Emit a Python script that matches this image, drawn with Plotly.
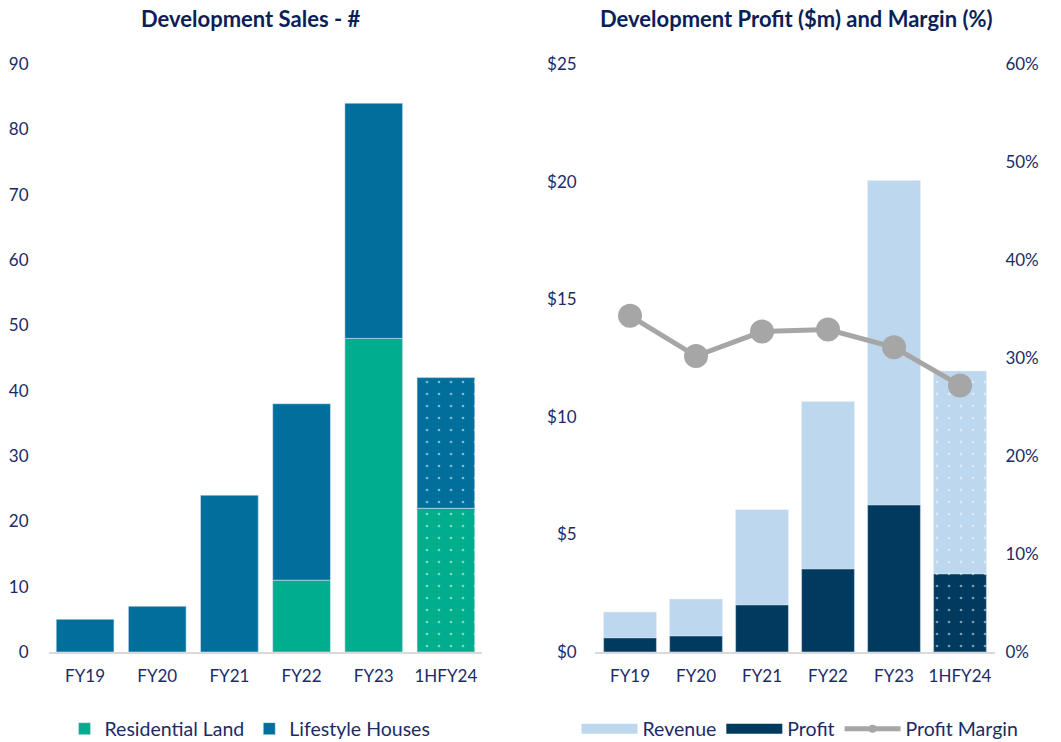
import plotly.graph_objects as go

categories = ["FY19", "FY20", "FY21", "FY22", "FY23", "1HFY24"]
residential_land = [0, 0, 0, 11, 48, 22]
lifestyle_houses = [5, 7, 24, 27, 36, 20]
revenue = [1.7, 2.25, 6.05, 10.65, 20.05, 11.95]
profit = [0.6, 0.68, 2.0, 3.53, 6.25, 3.32]
profit_margin = [0.343, 0.302, 0.327, 0.329, 0.311, 0.272]

C_LAND = "#00AE8E"
C_HOUSE = "#006F9B"
C_REV = "#BDD7EE"
C_PROF = "#003A5F"
C_MARGIN = "#A6A6A6"
C_TEXT = "#1B2B66"
C_TITLE = "#0B1F56"
FONT = "Lato, Open Sans, sans-serif"

W, H = 1061, 742
ML, MR, MT, MB = 49, 66, 64, 90
PW, PH = W - ML - MR, H - MT - MB


def px_x(p):
    return (p - ML) / PW


def px_y(p):
    return (H - MB - p) / PH


shapes = ["" for _ in categories[:-1]] + ["."]


def pat():
    return dict(shape=shapes, fgcolor="white", size=12, solidity=0.04)


fig = go.Figure()

fig.add_trace(go.Bar(x=categories, y=residential_land, name="Residential Land",
                     marker=dict(color=C_LAND, pattern=pat()), width=0.8,
                     xaxis="x", yaxis="y", legend="legend"))
fig.add_trace(go.Bar(x=categories, y=lifestyle_houses, base=residential_land,
                     name="Lifestyle Houses",
                     marker=dict(color=C_HOUSE, pattern=pat()), width=0.8,
                     xaxis="x", yaxis="y", legend="legend"))

fig.add_trace(go.Bar(x=categories, y=revenue, name="Revenue",
                     marker=dict(color=C_REV, pattern=pat()), width=0.8,
                     xaxis="x2", yaxis="y2", showlegend=False))
fig.add_trace(go.Bar(x=categories, y=profit, name="Profit",
                     marker=dict(color=C_PROF, pattern=pat()), width=0.8,
                     xaxis="x2", yaxis="y2", showlegend=False))
fig.add_trace(go.Scatter(x=categories, y=profit_margin, name="Profit Margin",
                         mode="lines+markers",
                         line=dict(color=C_MARGIN, width=5),
                         marker=dict(color=C_MARGIN, size=24),
                         xaxis="x2", yaxis="y3", showlegend=False))

# legend entries for the right panel (wide swatches as in the original)
fig.add_trace(go.Scatter(x=[None], y=[None], name="Revenue", mode="lines",
                         line=dict(color=C_REV, width=12),
                         xaxis="x2", yaxis="y2", legend="legend2"))
fig.add_trace(go.Scatter(x=[None], y=[None], name="Profit", mode="lines",
                         line=dict(color=C_PROF, width=12),
                         xaxis="x2", yaxis="y2", legend="legend2"))
fig.add_trace(go.Scatter(x=[None], y=[None], name="Profit Margin",
                         mode="lines+markers",
                         line=dict(color=C_MARGIN, width=5),
                         marker=dict(color=C_MARGIN, size=8),
                         xaxis="x2", yaxis="y3", legend="legend2"))

tickfont = dict(family=FONT, size=17, color=C_TEXT)
legfont = dict(family=FONT, size=19.5, color=C_TEXT)

fig.update_layout(
    width=W, height=H,
    barmode="overlay",
    plot_bgcolor="white", paper_bgcolor="white",
    margin=dict(l=ML, r=MR, t=MT, b=MB, autoexpand=False),
    font=dict(family=FONT, color=C_TEXT),
    xaxis=dict(domain=[0, 0.4577], showgrid=False, showline=True,
               linecolor="#D9D9D9", linewidth=2, tickfont=tickfont,
               ticks="outside", ticklen=8, tickcolor="rgba(0,0,0,0)"),
    yaxis=dict(range=[0, 90], dtick=10, showgrid=False, zeroline=False,
               showline=False, tickfont=tickfont, ticks="outside",
               ticklen=16, tickcolor="rgba(0,0,0,0)"),
    xaxis2=dict(domain=[0.5772, 1], anchor="y2", showgrid=False, showline=True,
                linecolor="#D9D9D9", linewidth=2, tickfont=tickfont,
                ticks="outside", ticklen=8, tickcolor="rgba(0,0,0,0)"),
    yaxis2=dict(anchor="x2", range=[0, 25], dtick=5, tickprefix="$",
                showgrid=False, zeroline=False, showline=False, tickfont=tickfont,
                ticks="outside", ticklen=14, tickcolor="rgba(0,0,0,0)"),
    yaxis3=dict(overlaying="y2", side="right", anchor="x2", range=[0, 0.6],
                dtick=0.1, tickformat=".0%", showgrid=False, zeroline=False,
                showline=False, tickfont=tickfont, ticks="outside",
                ticklen=6, tickcolor="rgba(0,0,0,0)"),
    legend=dict(orientation="h", x=px_x(250), xanchor="center", y=px_y(729),
                yanchor="middle", font=legfont, traceorder="normal",
                bgcolor="rgba(0,0,0,0)"),
    legend2=dict(orientation="h", x=px_x(800), xanchor="center", y=px_y(729),
                 yanchor="middle", font=legfont, traceorder="normal",
                 bgcolor="rgba(0,0,0,0)", itemwidth=56),
    annotations=[
        dict(text="<b>Development Sales - #</b>", x=px_x(250), y=px_y(18),
             xref="paper", yref="paper", xanchor="center", yanchor="middle",
             showarrow=False, font=dict(family=FONT, size=22, color=C_TITLE)),
        dict(text="<b>Development Profit ($m) and Margin (%)</b>", x=px_x(796),
             y=px_y(18), xref="paper", yref="paper", xanchor="center",
             yanchor="middle", showarrow=False,
             font=dict(family=FONT, size=22, color=C_TITLE)),
    ],
)

fig.write_html(
    "out.html",
    config={"displayModeBar": False},
    post_script="document.body.style.margin='0';document.body.style.overflow='hidden';",
)
